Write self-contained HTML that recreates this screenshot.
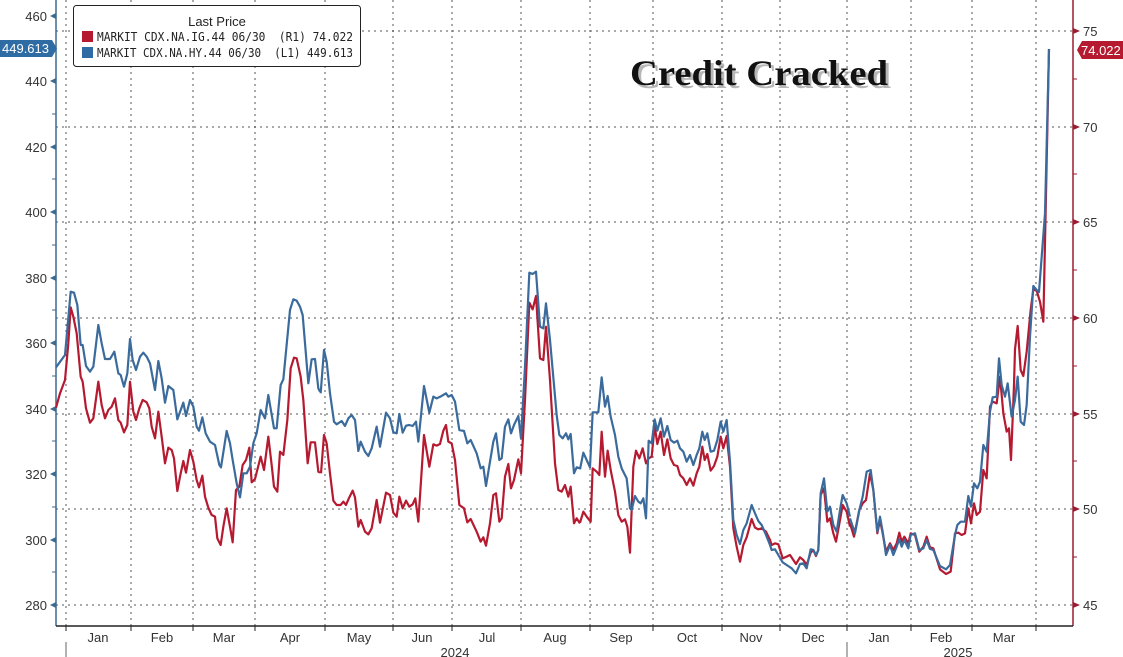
<!DOCTYPE html>
<html><head><meta charset="utf-8"><style>
html,body{margin:0;padding:0;background:#fff;}
svg{display:block;font-family:"Liberation Sans","DejaVu Sans",sans-serif;}
.g{stroke:#555;stroke-width:1;stroke-dasharray:2,4;fill:none}
.b{fill:none;stroke:#3a6b9c;stroke-width:2.2;stroke-linejoin:round}
.r{fill:none;stroke:#b51a30;stroke-width:2.2;stroke-linejoin:round}
.lt{font-size:13px;fill:#333;text-anchor:end}
.rt{font-size:13px;fill:#333}
.mt{font-size:13px;fill:#333;text-anchor:middle}
</style></head><body>
<svg width="1123" height="657" viewBox="0 0 1123 657">
<g class="g">
<line x1="56" y1="31" x2="1073" y2="31"/><line x1="56" y1="127" x2="1073" y2="127"/>
<line x1="56" y1="222" x2="1073" y2="222"/><line x1="56" y1="318" x2="1073" y2="318"/>
<line x1="56" y1="414" x2="1073" y2="414"/><line x1="56" y1="509" x2="1073" y2="509"/>
<line x1="56" y1="605" x2="1073" y2="605"/>
<line x1="66" y1="0" x2="66" y2="626"/><line x1="131" y1="0" x2="131" y2="626"/>
<line x1="193" y1="0" x2="193" y2="626"/><line x1="255" y1="0" x2="255" y2="626"/>
<line x1="325" y1="0" x2="325" y2="626"/><line x1="393" y1="0" x2="393" y2="626"/>
<line x1="452" y1="0" x2="452" y2="626"/><line x1="521" y1="0" x2="521" y2="626"/>
<line x1="590" y1="0" x2="590" y2="626"/><line x1="653" y1="0" x2="653" y2="626"/>
<line x1="722" y1="0" x2="722" y2="626"/><line x1="780" y1="0" x2="780" y2="626"/>
<line x1="847" y1="0" x2="847" y2="626"/><line x1="911" y1="0" x2="911" y2="626"/>
<line x1="972" y1="0" x2="972" y2="626"/><line x1="1036" y1="0" x2="1036" y2="626"/>
</g>
<line x1="56" y1="0" x2="56" y2="626" stroke="#3d6a8f" stroke-width="1.5"/>
<line x1="1073" y1="0" x2="1073" y2="626" stroke="#9b1b30" stroke-width="1.5"/>
<line x1="56" y1="626" x2="1073" y2="626" stroke="#222" stroke-width="1.5"/>
<g fill="#3d6a8f">
<polygon points="50,605 56,602 56,608"/><polygon points="50,540 56,537 56,543"/>
<polygon points="50,474 56,471 56,477"/><polygon points="50,409 56,406 56,412"/>
<polygon points="50,343 56,340 56,346"/><polygon points="50,278 56,275 56,281"/>
<polygon points="50,212 56,209 56,215"/><polygon points="50,147 56,144 56,150"/>
<polygon points="50,81 56,78 56,84"/><polygon points="50,16 56,13 56,19"/>
</g>
<g stroke="#3d6a8f"><line x1="52" y1="572" x2="56" y2="572"/><line x1="52" y1="507" x2="56" y2="507"/><line x1="52" y1="441" x2="56" y2="441"/><line x1="52" y1="376" x2="56" y2="376"/><line x1="52" y1="310" x2="56" y2="310"/><line x1="52" y1="245" x2="56" y2="245"/><line x1="52" y1="179" x2="56" y2="179"/><line x1="52" y1="114" x2="56" y2="114"/></g>
<text class="lt" x="47" y="610">280</text><text class="lt" x="47" y="545">300</text>
<text class="lt" x="47" y="479">320</text><text class="lt" x="47" y="414">340</text>
<text class="lt" x="47" y="348">360</text><text class="lt" x="47" y="283">380</text>
<text class="lt" x="47" y="217">400</text><text class="lt" x="47" y="152">420</text>
<text class="lt" x="47" y="86">440</text><text class="lt" x="47" y="21">460</text>
<g fill="#9b1b30">
<polygon points="1080,605 1073,602 1073,608"/><polygon points="1080,509 1073,506 1073,512"/>
<polygon points="1080,414 1073,411 1073,417"/><polygon points="1080,318 1073,315 1073,321"/>
<polygon points="1080,222 1073,219 1073,225"/><polygon points="1080,127 1073,124 1073,130"/>
<polygon points="1080,31 1073,28 1073,34"/>
</g>
<g stroke="#9b1b30"><line x1="1073" y1="557" x2="1077" y2="557"/><line x1="1073" y1="461" x2="1077" y2="461"/><line x1="1073" y1="366" x2="1077" y2="366"/><line x1="1073" y1="270" x2="1077" y2="270"/><line x1="1073" y1="174" x2="1077" y2="174"/><line x1="1073" y1="79" x2="1077" y2="79"/></g>
<text class="rt" x="1083" y="610">45</text><text class="rt" x="1083" y="514">50</text>
<text class="rt" x="1083" y="419">55</text><text class="rt" x="1083" y="323">60</text>
<text class="rt" x="1083" y="227">65</text><text class="rt" x="1083" y="132">70</text>
<text class="rt" x="1083" y="36">75</text>
<g stroke="#222">
<line x1="66" y1="626" x2="66" y2="631"/><line x1="131" y1="626" x2="131" y2="631"/><line x1="193" y1="626" x2="193" y2="631"/><line x1="255" y1="626" x2="255" y2="631"/><line x1="325" y1="626" x2="325" y2="631"/><line x1="393" y1="626" x2="393" y2="631"/><line x1="452" y1="626" x2="452" y2="631"/><line x1="521" y1="626" x2="521" y2="631"/><line x1="590" y1="626" x2="590" y2="631"/><line x1="653" y1="626" x2="653" y2="631"/><line x1="722" y1="626" x2="722" y2="631"/><line x1="780" y1="626" x2="780" y2="631"/><line x1="847" y1="626" x2="847" y2="631"/><line x1="911" y1="626" x2="911" y2="631"/><line x1="972" y1="626" x2="972" y2="631"/><line x1="1036" y1="626" x2="1036" y2="631"/>
</g>
<g stroke="#666"><line x1="66" y1="642" x2="66" y2="657"/><line x1="847" y1="642" x2="847" y2="657"/></g>
<text class="mt" x="98" y="642">Jan</text><text class="mt" x="162" y="642">Feb</text><text class="mt" x="224" y="642">Mar</text><text class="mt" x="290" y="642">Apr</text><text class="mt" x="359" y="642">May</text><text class="mt" x="422" y="642">Jun</text><text class="mt" x="487" y="642">Jul</text><text class="mt" x="555" y="642">Aug</text><text class="mt" x="621" y="642">Sep</text><text class="mt" x="687" y="642">Oct</text><text class="mt" x="751" y="642">Nov</text><text class="mt" x="813" y="642">Dec</text><text class="mt" x="879" y="642">Jan</text><text class="mt" x="941" y="642">Feb</text><text class="mt" x="1004" y="642">Mar</text>
<text class="mt" x="455" y="657">2024</text><text class="mt" x="958" y="657">2025</text>

<g transform="translate(50,280) scale(0.33333)">
<polyline class="r" vector-effect="non-scaling-stroke" points="18,383 30,340 45,300 55,190 62,82 70,110 80,160 92,290 98,305 108,385 120,428 130,415 145,305 155,375 165,415 175,390 185,380 195,355 205,420 212,428 222,457 232,435 240,305 250,395 258,420 268,385 278,360 290,367 298,385 305,440 315,475 325,395 335,470 345,550 355,503 365,510 372,535 382,633 390,590 400,543 408,578 420,510 430,545 440,600 447,622 457,587 465,650 475,683 485,705 495,710 502,775 512,795 520,740 530,685 540,740 548,787 558,630 568,620 578,555 588,540 598,503 605,607 615,597 632,530 642,570 655,470 665,555 672,620 682,635 690,515 700,525 712,420 722,265 732,233 740,235 752,290 760,360 773,550 782,487 795,487 805,575 810,578"/>
<polyline class="b" vector-effect="non-scaling-stroke" points="18,262 45,225 62,35 72,38 82,75 92,195 98,195 108,258 120,275 130,260 145,135 155,190 165,237 180,237 193,215 205,280 212,285 222,320 232,280 240,177 248,240 258,270 270,230 280,218 290,230 300,250 315,330 325,243 335,295 345,368 355,318 370,330 382,418 400,368 408,408 420,360 430,380 440,440 447,452 457,412 467,460 480,485 495,495 508,555 513,562 530,453 540,490 548,540 560,610 570,652 580,580 590,580 600,560 610,490 620,460 632,390 645,415 655,345 672,445 680,445 692,315 700,298 720,90 730,58 740,62 750,80 758,105 775,310 785,238 795,237 805,325 810,335"/>
</g>
<g transform="translate(310,260) scale(0.33333)">
<polyline class="r" vector-effect="non-scaling-stroke" points="33,640 42,525 50,550 60,640 70,722 80,735 92,735 100,725 108,735 118,712 128,692 135,712 145,800 152,780 165,815 175,823 185,805 200,720 210,788 228,698 240,705 250,758 260,770 268,710 278,745 288,722 298,740 308,733 316,715 325,785 342,525 358,620 370,553 380,557 390,552 400,512 408,495 415,545 425,550 435,600 448,735 462,745 472,787 482,777 500,815 512,845 520,832 528,857 540,790 550,705 558,700 568,785 575,775 585,650 595,612 603,685 612,660 625,598 633,640 645,420 658,128 668,148 678,108 690,295 700,300 708,200 720,360 735,610 745,690 755,695 765,675 775,710 782,680 792,790 800,775 810,790"/>
<polyline class="b" vector-effect="non-scaling-stroke" points="32,400 42,270 50,305 60,400 72,485 80,493 95,483 105,498 115,475 125,465 135,480 145,573 152,545 165,575 175,588 185,565 200,500 210,560 228,458 240,475 250,517 260,520 268,462 278,518 288,497 298,495 308,498 318,485 325,545 342,378 358,458 370,410 380,415 395,408 408,400 415,410 425,405 435,425 448,510 462,513 472,550 482,540 500,580 512,625 520,620 528,678 540,605 550,545 558,520 568,600 575,595 585,500 595,478 603,520 612,495 625,468 633,535 645,320 658,38 668,42 678,35 690,200 700,205 708,130 720,240 740,465 748,525 758,535 768,520 775,538 782,522 792,640 800,622 810,625"/>
</g>
<g transform="translate(570,360) scale(0.33333)">
<polyline class="r" vector-effect="non-scaling-stroke" points="30,488 40,455 50,470 62,485 68,325 80,335 88,345 95,215 105,350 113,272 122,330 135,395 145,465 155,485 165,478 172,500 180,578 190,320 198,272 208,295 218,265 228,310 236,295 245,290 254,198 262,252 272,215 282,285 292,238 302,295 312,315 322,318 330,345 340,355 350,375 360,355 370,377 380,340 388,320 397,260 404,300 412,282 422,332 432,318 442,290 452,230 460,265 470,228 480,320 490,505 500,560 510,605 520,555 530,532 545,477 555,503 565,508 575,505 588,515 600,540 605,555 615,550 625,553 638,595 650,590 660,585 678,612 690,592 700,600 710,615 722,578 730,570 738,588 745,570 752,405 762,385 772,485 780,475 790,520 798,545 810,480 818,435 830,455 840,500"/>
<polyline class="b" vector-effect="non-scaling-stroke" points="30,328 40,278 50,300 60,322 68,157 85,157 95,52 105,140 113,108 122,170 135,225 145,290 155,325 170,355 180,445 185,450 195,408 205,425 212,430 220,415 228,475 236,242 245,250 254,178 262,212 272,175 282,230 292,198 302,240 312,248 322,242 330,265 340,275 350,305 360,285 370,315 380,285 388,265 397,215 404,240 412,220 422,275 432,272 442,240 452,185 460,215 470,180 480,305 490,480 500,525 510,552 520,510 530,490 545,435 555,460 565,483 575,495 588,525 600,555 605,570 615,568 625,585 638,607 650,615 665,625 678,640 690,612 700,610 710,625 722,568 730,570 738,585 745,570 752,400 762,355 772,455 780,440 790,495 800,515 810,450 818,405 830,430 840,470"/>
</g>
<g transform="translate(840,270) scale(0.33333)">
<polyline class="r" vector-effect="non-scaling-stroke" points="30,760 42,800 58,720 68,700 78,690 90,610 100,660 112,790 120,750 128,790 138,845 150,820 160,840 170,820 178,788 185,815 193,800 205,820 212,790 225,795 238,845 250,830 260,800 270,832 280,835 300,898 318,912 332,905 345,790 355,788 365,795 375,790 385,715 393,760 402,700 410,735 420,725 430,600 440,625 450,410 458,395 470,400 480,320 490,430 500,485 507,475 513,570 522,345 525,238 533,168 542,300 550,318 560,245 572,120 580,58 590,62 600,95 610,155 616,-130 627,-663"/>
<polyline class="b" vector-effect="non-scaling-stroke" points="30,745 45,790 58,720 68,680 80,605 92,600 100,660 112,785 120,740 128,785 138,855 150,825 160,855 170,830 178,808 185,830 193,810 205,835 212,795 225,790 238,840 250,835 260,810 270,837 280,840 300,888 318,898 330,885 345,795 352,765 362,755 375,755 385,678 393,710 402,640 412,655 420,635 430,525 440,545 450,425 458,382 470,380 477,265 485,345 495,380 503,340 515,440 525,390 533,320 542,455 552,465 560,405 570,200 580,48 590,60 597,66 615,-170 627,-663"/>
</g>

<polygon points="0,40 52,40 57,48.5 52,57 0,57" fill="#2f6ca3"/>
<text x="2" y="53" font-size="13" fill="#fff">449.613</text>
<polygon points="1082,41 1123,41 1123,59 1082,59 1077,50" fill="#b51a30"/>
<text x="1081" y="55" font-size="13" fill="#fff">74.022</text>

<rect x="73.5" y="5.5" width="287" height="61" rx="3" fill="#fff" stroke="#222" stroke-width="1"/>
<text x="217" y="26" font-size="13" fill="#222" text-anchor="middle">Last Price</text>
<rect x="82" y="31" width="11" height="11" fill="#b51a30"/>
<rect x="82" y="47" width="11" height="11" fill="#2f6ca3"/>
<text x="97" y="41" font-size="12.5" fill="#222" font-family="'DejaVu Sans Mono','Liberation Mono',monospace" textLength="256" lengthAdjust="spacingAndGlyphs" xml:space="preserve">MARKIT CDX.NA.IG.44 06/30  (R1) 74.022</text>
<text x="97" y="57" font-size="12.5" fill="#222" font-family="'DejaVu Sans Mono','Liberation Mono',monospace" textLength="256" lengthAdjust="spacingAndGlyphs" xml:space="preserve">MARKIT CDX.NA.HY.44 06/30  (L1) 449.613</text>

<text x="630" y="85" font-family="'Liberation Serif',serif" font-weight="bold" font-size="36" fill="#888" opacity="0.6" transform="translate(3,3)" textLength="258" lengthAdjust="spacingAndGlyphs">Credit Cracked</text>
<text x="630" y="85" font-family="'Liberation Serif',serif" font-weight="bold" font-size="36" fill="#111" textLength="258" lengthAdjust="spacingAndGlyphs">Credit Cracked</text>
</svg>
</body></html>
